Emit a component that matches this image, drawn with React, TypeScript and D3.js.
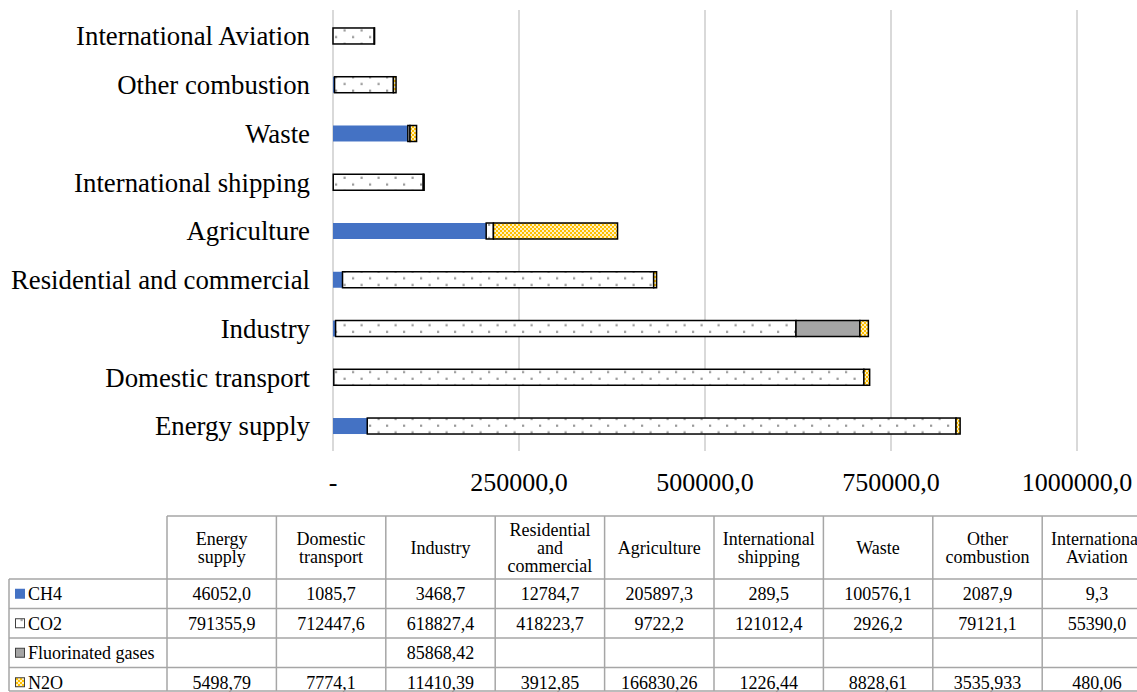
import * as d3 from "d3";

const categories = [
  "Energy supply",
  "Domestic transport",
  "Industry",
  "Residential and commercial",
  "Agriculture",
  "International shipping",
  "Waste",
  "Other combustion",
  "International Aviation",
];

// header lines in the table
const headerLines = [
  ["Energy", "supply"],
  ["Domestic", "transport"],
  ["Industry"],
  ["Residential", "and", "commercial"],
  ["Agriculture"],
  ["International", "shipping"],
  ["Waste"],
  ["Other", "combustion"],
  ["International", "Aviation"],
];

const ch4 = [46052.0, 1085.7, 3468.7, 12784.7, 205897.3, 289.5, 100576.1, 2087.9, 9.3];
const co2 = [791355.9, 712447.6, 618827.4, 418223.7, 9722.2, 121012.4, 2926.2, 79121.1, 55390.0];
const fgas = [null, null, 85868.42, null, null, null, null, null, null];
const n2o = [5498.79, 7774.1, 11410.39, 3912.85, 166830.26, 1226.44, 8828.61, 3535.933, 480.06];

const xTicks = [0, 250000, 500000, 750000, 1000000];

const series = [
  { name: "CH4", values: ch4, fill: "#4472C4", stroke: "none", fmt: (v: number) => v.toFixed(1) },
  { name: "CO2", values: co2, fill: "url(#dots)", stroke: "#000", fmt: (v: number) => v.toFixed(1) },
  { name: "Fluorinated gases", values: fgas, fill: "#A5A5A5", stroke: "#000", fmt: (v: number) => String(v) },
  { name: "N2O", values: n2o, fill: "url(#checker)", stroke: "#000", fmt: (v: number) => String(v) },
];

const FONT = "'Liberation Serif', 'Times New Roman', serif";

export default function App() {
  const width = 1137;
  const height = 692;

  const x = d3.scaleLinear().domain([0, 1000000]).range([333, 1077]);
  // first category at the bottom
  const y = d3
    .scaleBand<string>()
    .domain([...categories].reverse())
    .range([11.6, 450.4])
    .paddingInner(0.672)
    .paddingOuter(0.336);

  const stack = categories.map((c, i) => {
    let acc = 0;
    return series.map((s) => {
      const v = s.values[i] ?? 0;
      const seg = { x0: acc, x1: acc + v, s };
      acc += v;
      return seg;
    });
  });

  // table geometry
  const col = d3.scaleBand<string>().domain(categories).range([167, 167 + 9 * 109.4]);
  const headTop = 516;
  const headBottom = 579;
  const rowY = d3.scaleBand<string>().domain(series.map((s) => s.name)).range([579, 697]);
  const tableRight = 167 + 9 * 109.4;
  const grid = "#A6A6A6";

  const comma = (s: string) => s.replace(".", ",");

  return (
    <svg
      width={width}
      height={height}
      style={{ position: "absolute", left: 0, top: 0, background: "#fff" }}
      fontFamily={FONT}
    >
      <defs>
        <pattern id="dots" width={17} height={13.4} patternUnits="userSpaceOnUse">
          <rect width={17} height={13.4} fill="#fff" />
          <rect x={3.5} y={2.5} width={2.2} height={2.2} fill="#9A9A9A" />
          <rect x={12} y={9.2} width={2.2} height={2.2} fill="#9A9A9A" />
        </pattern>
        <pattern id="checker" width={4} height={4} patternUnits="userSpaceOnUse">
          <rect width={4} height={4} fill="#FFC000" />
          <rect x={0} y={0} width={2} height={2} fill="#FFF0C0" />
          <rect x={2} y={2} width={2} height={2} fill="#FFF0C0" />
        </pattern>
      </defs>

      {/* gridlines */}
      {xTicks.map((t) => (
        <line key={t} x1={x(t)} x2={x(t)} y1={10} y2={451} stroke="#D9D9D9" strokeWidth={2} />
      ))}

      {/* bars */}
      {categories.map((c, i) => (
        <g key={c}>
          {stack[i]
            .filter((seg) => seg.x1 > seg.x0)
            .map((seg) => (
              <rect
                key={seg.s.name}
                x={x(seg.x0)}
                y={y(c)!}
                width={x(seg.x1) - x(seg.x0)}
                height={y.bandwidth()}
                fill={seg.s.fill}
                stroke={seg.s.stroke}
                strokeWidth={1.5}
              />
            ))}
          <text
            x={310}
            y={y(c)! + y.bandwidth() / 2}
            dy="0.35em"
            textAnchor="end"
            fontSize={26.8}
            fill="#000"
          >
            {c}
          </text>
        </g>
      ))}

      {/* x tick labels */}
      {xTicks.map((t) => (
        <text key={t} x={x(t)} y={491} textAnchor="middle" fontSize={26} fill="#000">
          {t === 0 ? "-" : comma(d3.format(".1f")(t))}
        </text>
      ))}

      {/* data table */}
      <g fontSize={18} fill="#000">
        {categories.map((c, i) => {
          const lines = headerLines[i];
          const cx = col(c)! + col.bandwidth() / 2;
          const mid = (headTop + headBottom) / 2;
          return (
            <text key={c} x={cx} textAnchor="middle">
              {lines.map((l, j) => (
                <tspan key={j} x={cx} y={mid + (j - (lines.length - 1) / 2) * 18} dy="0.35em">
                  {l}
                </tspan>
              ))}
            </text>
          );
        })}
        {series.map((s) => {
          const ry = rowY(s.name)!;
          const cy = ry + rowY.bandwidth() / 2;
          return (
            <g key={s.name}>
              {s.name === "CH4" ? (
                <rect x={15} y={cy - 5} width={10} height={10} fill={s.fill} />
              ) : (
                <rect x={15.5} y={cy - 4.5} width={9} height={9} fill={s.fill} stroke="#404040" strokeWidth={1} />
              )}
              <text x={28} y={cy} dy="0.35em">
                {s.name}
              </text>
              {categories.map((c, i) => {
                const v = s.values[i];
                if (v == null) return null;
                return (
                  <text key={c} x={col(c)! + col.bandwidth() / 2} y={cy} dy="0.35em" textAnchor="middle">
                    {comma(s.fmt(v))}
                  </text>
                );
              })}
            </g>
          );
        })}
      </g>

      {/* table borders */}
      <g stroke={grid} strokeWidth={1.5}>
        <line x1={167} x2={tableRight} y1={headTop} y2={headTop} />
        {series.map((s) => (
          <line key={s.name} x1={9} x2={tableRight} y1={rowY(s.name)!} y2={rowY(s.name)!} />
        ))}
        <line x1={9} x2={tableRight} y1={691} y2={691} />
        <line x1={9} x2={9} y1={headBottom} y2={691} />
        {categories.map((c) => (
          <line key={c} x1={col(c)!} x2={col(c)!} y1={headTop} y2={691} />
        ))}
        <line x1={tableRight} x2={tableRight} y1={headTop} y2={691} />
      </g>
    </svg>
  );
}
